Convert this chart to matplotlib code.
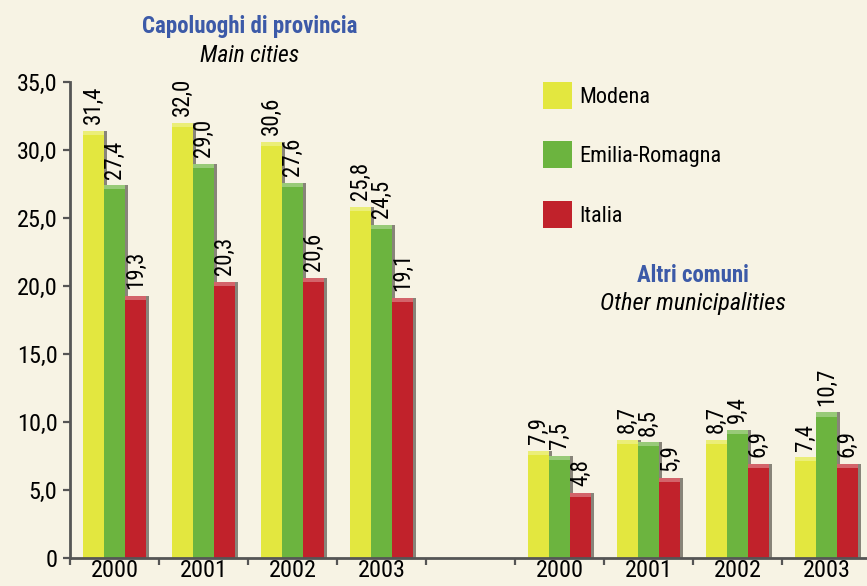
import matplotlib
matplotlib.use("Agg")
import matplotlib.pyplot as plt
import numpy as np

############## Données ##############################################
anni = ["2000", "2001", "2002", "2003"]
serie = ["Modena", "Emilia-Romagna", "Italia"]

# Capoluoghi di provincia / Main cities
capoluoghi_modena = [31.4, 32.0, 30.6, 25.8]
capoluoghi_er = [27.4, 29.0, 27.6, 24.5]
capoluoghi_italia = [19.3, 20.3, 20.6, 19.1]

# Altri comuni / Other municipalities
altri_modena = [7.9, 8.7, 8.7, 7.4]
altri_er = [7.5, 8.5, 9.4, 10.7]
altri_italia = [4.8, 5.9, 6.9, 6.9]

colori = ["#e3e73f", "#6cb43f", "#c1222b"]
sfondo = "#f7f3e4"
blu = "#3c5aa8"

plt.rcParams['font.family'] = ["Roboto Condensed", "DejaVu Sans"]

############## Grafico ##############################################
W, H = 867, 586
fig = plt.figure(figsize=(W / 100, H / 100), dpi=100)
fig.patch.set_facecolor(sfondo)

ax = fig.add_axes([70 / W, 28 / H, 1 - 70 / W, (558 - 82) / H])
ax.set_facecolor(sfondo)

pos = np.array([0, 1, 2, 3, 5, 6, 7, 8])
valori = [capoluoghi_modena + altri_modena,
          capoluoghi_er + altri_er,
          capoluoghi_italia + altri_italia]

w = 0.235
ombra = 0.035
for i in range(0, 3):
    x = pos + (i - 1) * w
    # ombra a destra per l'effetto rilievo
    ax.bar(x + ombra, valori[i], width=w, color="#2e2a22", alpha=0.55, zorder=2)
    ax.bar(x, valori[i], width=w, color=colori[i], label=serie[i], zorder=3)
    # bordo superiore chiaro
    ax.bar(x, [0.3] * len(x), bottom=np.array(valori[i]) - 0.3, width=w,
           color="white", alpha=0.3, zorder=4)
    for xx, v in zip(x, valori[i]):
        ax.text(xx, v + 0.5, ("%.1f" % v).replace(".", ","), rotation=90,
                ha="center", va="bottom", fontsize=16.5, color="black", zorder=5)

ax.set_xlim(-0.5, -0.5 + (W - 70) / 89)
ax.set_ylim(0, 35)

ax.set_yticks(np.arange(0, 36, 5))
ax.set_yticklabels(["0"] + [("%.1f" % v).replace(".", ",") for v in np.arange(5, 36, 5)])
ax.set_xticks(np.arange(-0.5, 8, 1))
ax.set_xticklabels([])
ax.set_xticks(pos, minor=True)
ax.set_xticklabels(anni + anni, minor=True)
ax.tick_params(axis="x", which="minor", length=0, labelsize=17.5, pad=1)
ax.tick_params(axis="x", which="major", length=5, width=1.6, color="#555555", direction="out")
ax.tick_params(axis="y", length=5, width=1.6, color="#555555", labelsize=17.5, pad=4)

for s in ["top", "right"]:
    ax.spines[s].set_visible(False)
for s in ["left", "bottom"]:
    ax.spines[s].set_color("#555555")
    ax.spines[s].set_linewidth(2)
ax.spines["bottom"].set_zorder(6)

############## Titoli ###############################################
fig.text(250 / W, 1 - 33 / H, "Capoluoghi di provincia", ha="center", va="baseline",
         fontsize=16.5, color=blu, fontweight="bold")
fig.text(250 / W, 1 - 62 / H, "Main cities", ha="center", va="baseline",
         fontsize=17, style="italic", color="black")
fig.text(693 / W, 1 - 282 / H, "Altri comuni", ha="center", va="baseline",
         fontsize=16.5, color=blu, fontweight="bold")
fig.text(693 / W, 1 - 310 / H, "Other municipalities", ha="center", va="baseline",
         fontsize=17.5, style="italic", color="black")

handles, labels = ax.get_legend_handles_labels()
ax.legend(handles, labels, loc="upper left", bbox_to_anchor=(543 / W, 1 - 82 / H),
          bbox_transform=fig.transFigure, frameon=False, fontsize=16,
          handlelength=1.3, handleheight=1.5, handletextpad=0.35,
          labelspacing=1.45, borderpad=0, borderaxespad=0)

fig.savefig("out.png", dpi=100, facecolor=sfondo)
